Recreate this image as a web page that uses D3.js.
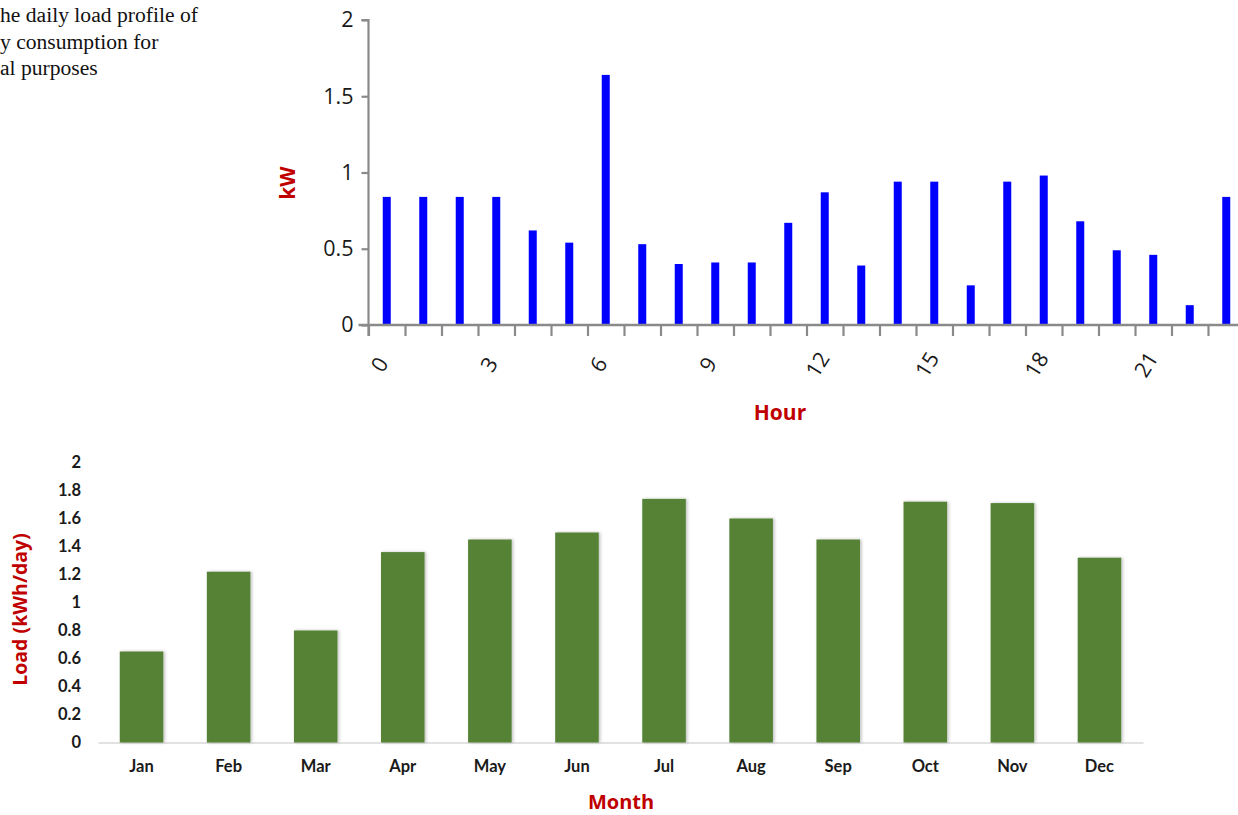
<!DOCTYPE html>
<html>
<head>
<meta charset="utf-8">
<script src="https://cdn.jsdelivr.net/npm/d3@7/dist/d3.min.js"></script>
<style>
  html, body { margin: 0; padding: 0; background: #fff; }
  svg { display: block; }
</style>
</head>
<body>
<svg id="chart" width="1238" height="815"></svg>
<script>
// ---------- data ----------
const captionLines = ["he daily load profile of", "y consumption for", "al purposes"];

const hours = d3.range(24);
const hourlyLoad = [0.84, 0.84, 0.84, 0.84, 0.62, 0.54, 1.64, 0.53, 0.40, 0.41, 0.41, 0.67,
                    0.87, 0.39, 0.94, 0.94, 0.26, 0.94, 0.98, 0.68, 0.49, 0.46, 0.13, 0.84];
const hourTickLabels = [0, 3, 6, 9, 12, 15, 18, 21];
const kwTicks = [0, 0.5, 1, 1.5, 2];

const months = ["Jan", "Feb", "Mar", "Apr", "May", "Jun", "Jul", "Aug", "Sep", "Oct", "Nov", "Dec"];
const monthlyLoad = [0.65, 1.22, 0.80, 1.36, 1.45, 1.50, 1.74, 1.60, 1.45, 1.72, 1.71, 1.32];
const loadTicks = ["0", "0.2", "0.4", "0.6", "0.8", "1", "1.2", "1.4", "1.6", "1.8", "2"];

// ---------- setup ----------
const svg = d3.select("#chart");
const RED = "#c00000";

// caption (cropped text at top-left)
svg.append("g").selectAll("text").data(captionLines).join("text")
  .attr("x", 0).attr("y", (d, i) => 22 + i * 26.5)
  .attr("font-family", "'Liberation Serif', 'Times New Roman', serif")
  .attr("font-size", 21.6).attr("fill", "#111")
  .text(d => d);

// ---------- top chart: hourly load ----------
const topG = svg.append("g");
const xL = 368.5, xR = xL + 24 * 36.5;
const yTop = d3.scaleLinear().domain([0, 2]).range([325, 20]);
const xBand = d3.scaleBand().domain(hours).range([xL, xR]).paddingInner(0.78).paddingOuter(0.39);
const xLin = d3.scaleLinear().domain([0, 24]).range([xL, xR]);

// bars
topG.append("g").selectAll("rect").data(hours).join("rect")
  .attr("x", d => xBand(d) + xBand.bandwidth() / 2 - 4)
  .attr("width", 8)
  .attr("y", d => yTop(hourlyLoad[d]))
  .attr("height", d => yTop(0) - yTop(hourlyLoad[d]))
  .attr("fill", "#0000ff");

// y axis
const yAxTop = topG.append("g").attr("transform", `translate(${xL},0)`)
  .call(d3.axisLeft(yTop).tickValues(kwTicks).tickSize(7).tickPadding(8).tickFormat(d => String(d)));
yAxTop.select(".domain").attr("stroke", "#8a8a8a").attr("stroke-width", 2.2)
  .attr("d", `M-7,${yTop(2)}H0V${yTop(0) + 11}`);
yAxTop.selectAll(".tick line").attr("stroke", "#8a8a8a").attr("stroke-width", 2.2);
yAxTop.selectAll(".tick text")
  .attr("font-family", "'Open Sans', 'Noto Sans', sans-serif")
  .attr("font-size", 21.5).attr("fill", "#1a1a1a");

// x axis ticks (band boundaries)
const xAxTop = topG.append("g").attr("transform", `translate(0,${yTop(0)})`)
  .call(d3.axisBottom(xLin).tickValues(d3.range(25)).tickSize(11).tickFormat(""));
xAxTop.select(".domain").attr("stroke", "#8a8a8a").attr("stroke-width", 2.4)
  .attr("d", `M${xL - 10},0H1238`);
xAxTop.selectAll(".tick line").attr("stroke", "#8a8a8a").attr("stroke-width", 2.2);

// x axis labels (rotated)
const xLab = topG.append("g").attr("transform", `translate(0,${yTop(0)})`)
  .call(d3.axisBottom(xBand).tickValues(hourTickLabels).tickSize(0).tickFormat(d => d));
xLab.select(".domain").remove();
xLab.selectAll(".tick text")
  .attr("font-family", "'Open Sans', 'Noto Sans', sans-serif")
  .attr("font-size", 21.5).attr("fill", "#1a1a1a")
  .attr("text-anchor", "middle")
  .attr("dy", null)
  .attr("y", 0).attr("x", 0)
  .attr("dominant-baseline", "central")
  .attr("transform", "translate(-8,39) rotate(-58)");

// axis titles
topG.append("text")
  .attr("transform", `translate(295,${yTop(0.93)}) rotate(-90)`)
  .attr("text-anchor", "middle")
  .attr("font-family", "'Open Sans', 'Noto Sans', sans-serif")
  .attr("font-weight", "bold").attr("font-size", 21).attr("fill", RED)
  .text("kW");
topG.append("text")
  .attr("x", 780).attr("y", 420).attr("text-anchor", "middle")
  .attr("font-family", "'Open Sans', 'Noto Sans', sans-serif")
  .attr("font-weight", "bold").attr("font-size", 21).attr("fill", RED)
  .text("Hour");

// ---------- bottom chart: monthly load ----------
const botG = svg.append("g");
const defs = svg.append("defs");
const filt = defs.append("filter").attr("id", "shadow").attr("x", "-20%").attr("y", "-5%")
  .attr("width", "140%").attr("height", "110%");
filt.append("feDropShadow").attr("dx", 1.5).attr("dy", 0).attr("stdDeviation", 1.5)
  .attr("flood-color", "#000").attr("flood-opacity", 0.25);

const yBot = d3.scaleLinear().domain([0, 2]).range([742.5, 462.5]);
const xMon = d3.scaleBand().domain(months).range([98, 1143]).paddingInner(0.5).paddingOuter(0.25);

// baseline
const xAxBot = botG.append("g").attr("transform", `translate(0,${yBot(0)})`)
  .call(d3.axisBottom(xMon).tickSize(0).tickPadding(18));
xAxBot.select(".domain").attr("stroke", "#d9d9d9").attr("stroke-width", 1.5);
xAxBot.selectAll(".tick text")
  .attr("font-family", "Lato, 'Open Sans', sans-serif")
  .attr("font-weight", "bold").attr("font-size", 16.5).attr("fill", "#1a1a1a");

// bars
botG.append("g").selectAll("rect").data(months).join("rect")
  .attr("x", d => xMon(d))
  .attr("width", xMon.bandwidth())
  .attr("y", (d, i) => yBot(monthlyLoad[i]))
  .attr("height", (d, i) => yBot(0) - yBot(monthlyLoad[i]))
  .attr("fill", "#548235")
  .attr("filter", "url(#shadow)");

// y axis labels
const yAxBot = botG.append("g").attr("transform", "translate(81,0)")
  .call(d3.axisLeft(yBot).tickValues(loadTicks.map(Number)).tickSize(0).tickPadding(0)
    .tickFormat((d, i) => loadTicks[i]));
yAxBot.select(".domain").remove();
yAxBot.selectAll(".tick text")
  .attr("font-family", "Lato, 'Open Sans', sans-serif")
  .attr("font-weight", "bold").attr("font-size", 16.5).attr("fill", "#1a1a1a");

// axis titles
botG.append("text")
  .attr("transform", `translate(27,${yBot(0.95)}) rotate(-90)`)
  .attr("text-anchor", "middle")
  .attr("font-family", "'Open Sans', 'Noto Sans', sans-serif")
  .attr("font-weight", "bold").attr("font-size", 19.5).attr("fill", RED)
  .text("Load (kWh/day)");
botG.append("text")
  .attr("x", 621).attr("y", 809).attr("text-anchor", "middle")
  .attr("font-family", "'Open Sans', 'Noto Sans', sans-serif")
  .attr("font-weight", "bold").attr("font-size", 20).attr("fill", RED)
  .text("Month");
</script>
</body>
</html>
